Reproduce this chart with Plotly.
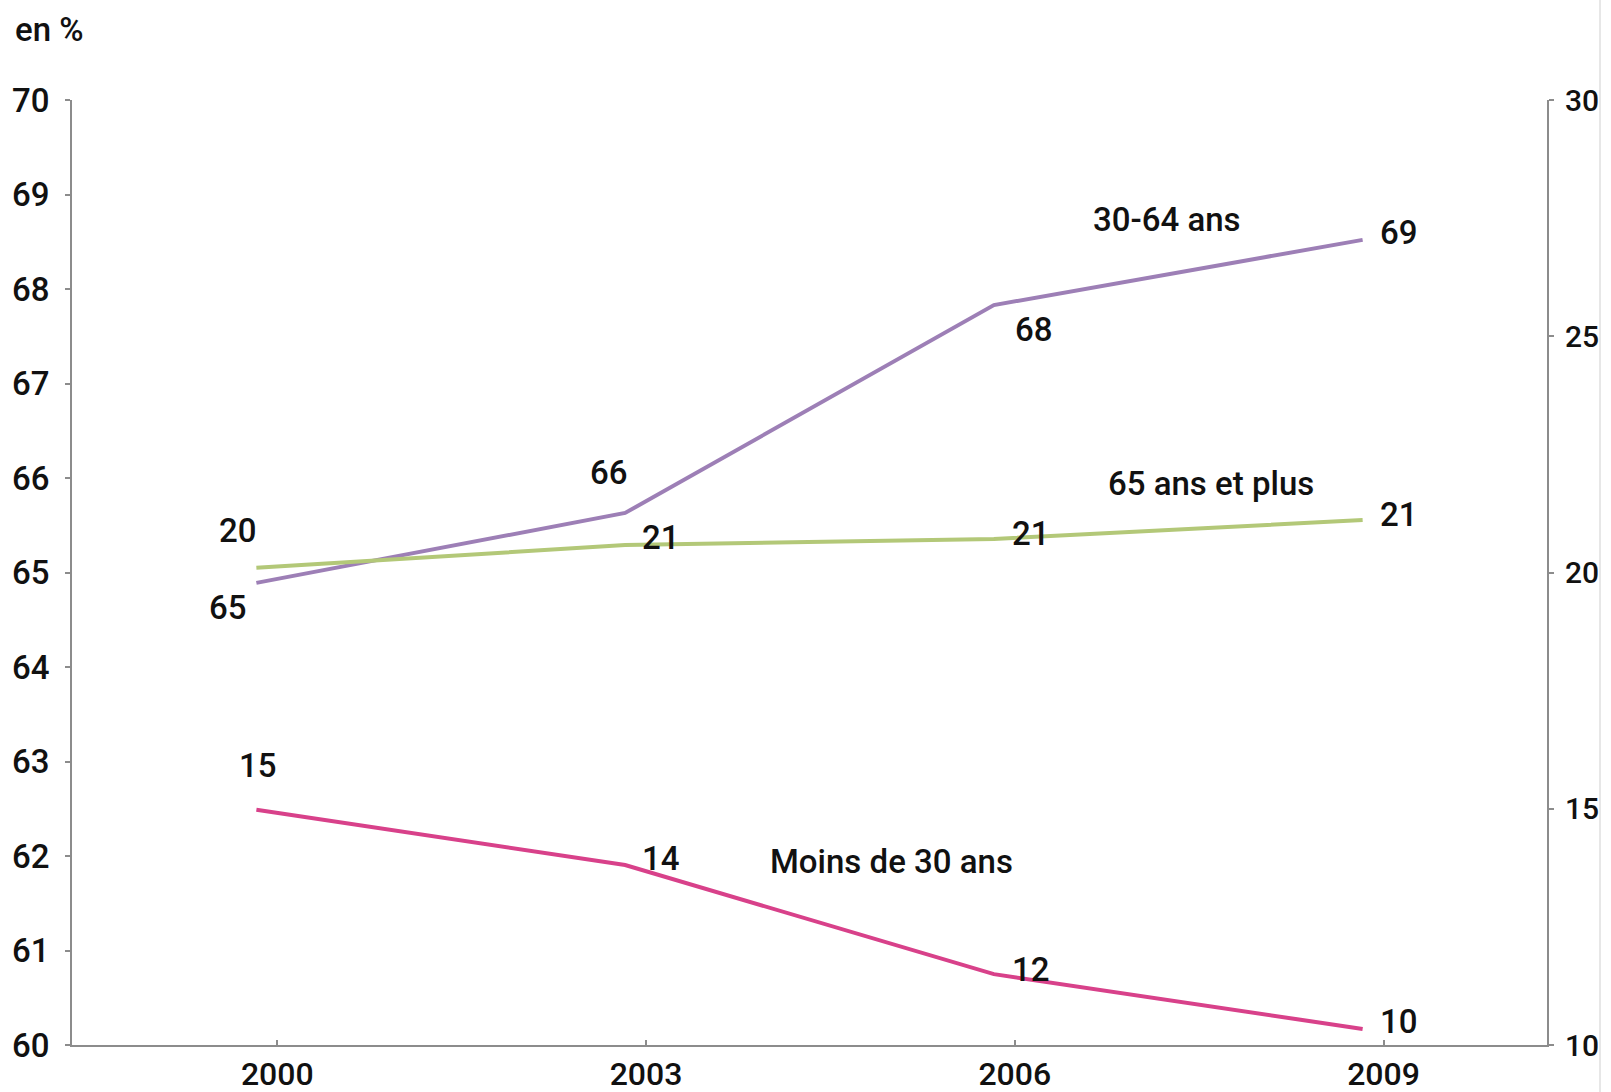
import plotly.graph_objects as go

years = [2000, 2003, 2006, 2009]
age_30_64 = [64.89, 65.63, 67.83, 68.52]      # left axis
age_65_plus = [20.10, 20.58, 20.71, 21.11]    # right axis
age_moins_30 = [14.98, 13.81, 11.50, 10.34]   # right axis
labels_30_64 = ["65", "66", "68", "69"]
labels_65_plus = ["20", "21", "21", "21"]
labels_moins_30 = ["15", "14", "12", "10"]
left_ticks = list(range(60, 71))
right_ticks = [10, 15, 20, 25, 30]

FONT = "Roboto, Liberation Sans, sans-serif"
FS = 33
FW = 500
AXC = "#8c8c8c"
PURPLE = "#9d7fb6"
GREEN = "#b3c878"
PINK = "#d8418a"
TXT = "#111111"

def f(size=FS):
    return dict(family=FONT, size=size, color=TXT, weight=FW)

fig = go.Figure()
fig.add_trace(go.Scatter(x=years, y=age_30_64, mode="lines", line=dict(color=PURPLE, width=4),
                         name="30-64 ans", yaxis="y"))
fig.add_trace(go.Scatter(x=years, y=age_65_plus, mode="lines", line=dict(color=GREEN, width=4),
                         name="65 ans et plus", yaxis="y2"))
fig.add_trace(go.Scatter(x=years, y=age_moins_30, mode="lines", line=dict(color=PINK, width=4),
                         name="Moins de 30 ans", yaxis="y2"))

ann = []
def lab(x, y, text, yref, dx, dy):
    ann.append(dict(x=x, y=y, xref="x", yref=yref, text=text, showarrow=False,
                    xanchor="center", yanchor="middle",
                    xshift=dx, yshift=dy, font=f()))

off_purple = [(-28, -25), (-16, 40), (40, -24), (36, 7)]
off_green = [(-18, 37), (36, 8), (37, 5), (36, 6)]
off_pink = [(2, 44), (36, 6), (37, 5), (36, 7)]
for i, yr in enumerate(years):
    lab(yr, age_30_64[i], labels_30_64[i], "y", *off_purple[i])
    lab(yr, age_65_plus[i], labels_65_plus[i], "y2", *off_green[i])
    lab(yr, age_moins_30[i], labels_moins_30[i], "y2", *off_pink[i])

lab(2007.41, 68.74, "30-64 ans", "y", 0, 0)
lab(2007.77, 21.89, "65 ans et plus", "y2", 0, 0)
lab(2005.17, 13.89, "Moins de 30 ans", "y2", 0, 0)
ann.append(dict(x=0, y=1, xref="paper", yref="paper", text="en %", showarrow=False,
                xanchor="center", yanchor="middle",
                xshift=-23, yshift=71, font=f()))

axis_common = dict(showgrid=False, zeroline=False, showline=True, linecolor=AXC, linewidth=2,
                   tickcolor=AXC, tickwidth=2, automargin=False)

fig.update_layout(
    width=1611, height=1092,
    margin=dict(l=72, r=64, t=100, b=47),
    paper_bgcolor="white", plot_bgcolor="white",
    showlegend=False,
    font=f(),
    annotations=ann,
    xaxis=dict(range=[1998.5, 2010.5], tickvals=[y + 0.17 for y in years],
               ticktext=[str(y) for y in years], ticks="inside", ticklen=5,
               ticklabelstandoff=0, tickfont=f(32), **axis_common),
    yaxis=dict(range=[60, 70], tickvals=left_ticks, ticks="outside", ticklen=5,
               ticklabelstandoff=9, tickfont=f(), **axis_common),
    yaxis2=dict(range=[10, 30], tickvals=right_ticks, overlaying="y", side="right",
                ticks="outside", ticklen=5, ticklabelstandoff=5, tickfont=f(30), **axis_common),
    shapes=[dict(type="line", xref="paper", yref="paper", x0=(1600 - 72) / 1475,
                 x1=(1600 - 72) / 1475, y0=-47 / 945, y1=1 + 100 / 945,
                 line=dict(color="#cfcfcf", width=1))],
)

fig.write_html("out.html")
